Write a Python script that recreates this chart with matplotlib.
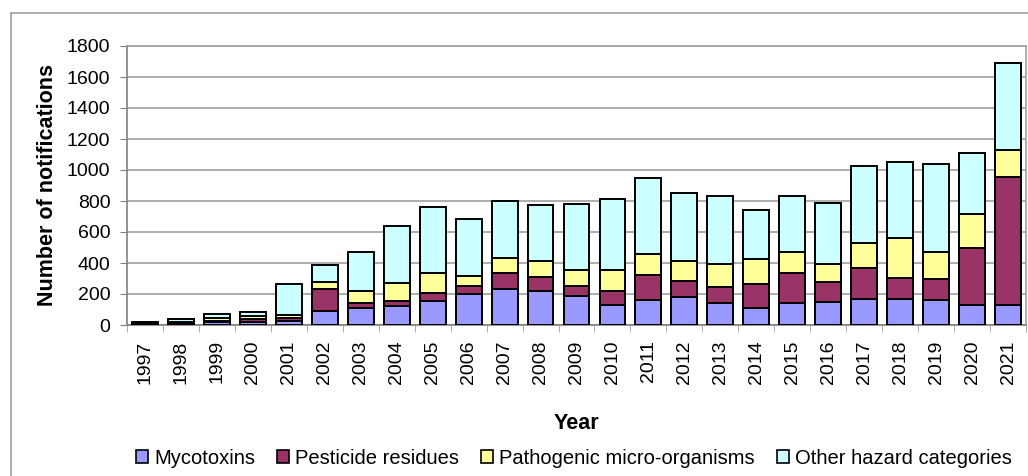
import numpy as np
import matplotlib
matplotlib.use('Agg')
import matplotlib.pyplot as plt
from matplotlib.lines import Line2D
from matplotlib.patches import Patch

plt.rcParams['font.family'] = ['Liberation Sans', 'DejaVu Sans']

years = [str(y) for y in range(1997, 2022)]
mycotoxins = [5, 10, 17, 17, 26, 90, 110, 120, 157, 200, 232, 219, 189, 129,
              159, 182, 140, 110, 140, 150, 170, 170, 159, 129, 129]
pesticides = [5, 3, 12, 19, 20, 144, 34, 32, 47, 52, 101, 92, 62, 90,
              165, 101, 103, 152, 195, 125, 198, 133, 137, 369, 829]
pathogens = [5, 8, 18, 24, 18, 41, 77, 122, 129, 62, 101, 105, 105, 135,
             131, 133, 152, 163, 133, 120, 163, 256, 172, 217, 174]
other = [6, 20, 25, 21, 200, 112, 249, 365, 429, 367, 369, 359, 427, 459,
         494, 438, 440, 316, 367, 389, 498, 490, 571, 393, 560]

series = [
    ('Mycotoxins', mycotoxins, '#9999ff'),
    ('Pesticide residues', pesticides, '#993366'),
    ('Pathogenic micro-organisms', pathogens, '#ffff99'),
    ('Other hazard categories', other, '#ccffff'),
]

fig = plt.figure(figsize=(10.28, 4.76), dpi=100)
ax = fig.add_axes([127 / 1028, 151 / 476, 899 / 1028, 279 / 476])

x = np.arange(len(years))
bottom = np.zeros(len(years))
for name, vals, col in series:
    ax.bar(x, vals, 0.72, bottom=bottom, color=col, edgecolor='black',
           linewidth=1.4, label=name, zorder=3)
    bottom += np.array(vals)

ax.set_xlim(-0.5, len(years) - 0.5)
ax.set_ylim(0, 1800)
ax.set_yticks(range(0, 1801, 200))
ax.yaxis.grid(True, color='#a0a0a0', linewidth=1.2, zorder=0)
ax.set_xticks(x)
ax.set_xticklabels(years, rotation=90, fontsize=14)
ax.set_xticks(np.arange(-0.5, len(years)), minor=True)
ax.tick_params(axis='x', which='major', length=0, pad=11)
ax.tick_params(axis='x', which='minor', length=5, color='#a0a0a0')
ax.tick_params(axis='y', labelsize=14, length=5, color='#808080', pad=7)
for s in ax.spines.values():
    s.set_color('#a0a0a0')
    s.set_linewidth(1.2)
ax.spines['left'].set_color('#808080')
ax.spines['bottom'].set_color('#808080')

ax.set_ylabel('Number of notifications', fontsize=15.5, fontweight='bold',
              labelpad=6)
ax.set_xlabel('Year', fontsize=15.5, fontweight='bold', labelpad=21)

handles = [Patch(facecolor=c, edgecolor='black', linewidth=1.2, label=n)
           for n, _, c in series]
fig.legend(handles=handles, loc='center', bbox_to_anchor=(574 / 1028, 18 / 476),
           ncol=4, frameon=False, fontsize=14.5, handlelength=0.6,
           handleheight=0.6, handletextpad=0.3, columnspacing=1.1)

# outer chart frame
fig.add_artist(Line2D([11 / 1028, 1], [1 - 13 / 476, 1 - 13 / 476],
                      transform=fig.transFigure, color='#a0a0a0', lw=1.2))
fig.add_artist(Line2D([11 / 1028, 11 / 1028], [0, 1 - 13 / 476],
                      transform=fig.transFigure, color='#a0a0a0', lw=1.2))

fig.savefig('out.png', dpi=100)
